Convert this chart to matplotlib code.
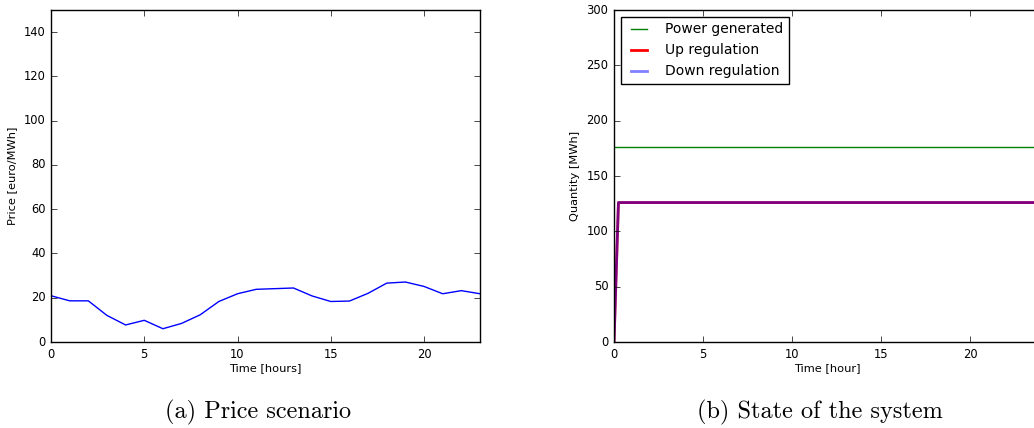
import matplotlib
matplotlib.use("Agg")
import matplotlib.pyplot as plt

# Price scenario (hourly)
hours = list(range(24))
price = [20.9, 18.6, 18.6, 12.0, 7.7, 9.8, 6.0, 8.4, 12.3, 18.3, 21.8, 23.8,
         24.1, 24.4, 20.8, 18.3, 18.5, 22.0, 26.6, 27.1, 25.1, 21.8, 23.2, 21.8]

# State of the system
t_sys = [0, 0.25, 24]
power_generated = [176, 176, 176]
up_regulation = [0, 126, 126]
down_regulation = [0, 126, 126]

plt.style.use('classic')
plt.rcParams['font.family'] = 'DejaVu Sans'
plt.rcParams['font.size'] = 8

fig = plt.figure(figsize=(10.34, 4.28), dpi=100, facecolor='white')

# (a) price
ax1 = fig.add_axes([51 / 1034, 1 - 342 / 428, (480 - 51) / 1034, 332 / 428])
ax1.plot(hours, price, color='blue', lw=1)
ax1.set_xlim(0, 23)
ax1.set_ylim(0, 150)
ax1.set_yticks(range(0, 141, 20))
ax1.set_xticks(range(0, 21, 5))
ax1.set_xlabel('Time [hours]', fontsize=8.2, labelpad=2)
ax1.set_ylabel('Price [euro/MWh]', fontsize=8.2)

# (b) system state
ax2 = fig.add_axes([614 / 1034, 1 - 342 / 428, 24 * 17.8 / 1034, 332 / 428])
ax2.plot(t_sys, power_generated, color='green', lw=1, label='Power generated')
ax2.plot(t_sys, up_regulation, color='red', lw=2, label='Up regulation')
ax2.plot(t_sys, down_regulation, color='blue', lw=2, alpha=0.5, label='Down regulation')
ax2.set_xlim(0, 24)
ax2.set_ylim(0, 300)
ax2.set_xticks(range(0, 21, 5))
ax2.set_xlabel('Time [hour]', fontsize=8.2, labelpad=2)
ax2.set_ylabel('Quantity [MWh]', fontsize=8.2)
ax2.legend(loc='upper left', fontsize=10, frameon=True, fancybox=False,
           handlelength=1.8, handletextpad=1.0, borderaxespad=0.5)

for ax in (ax1, ax2):
    ax.tick_params(labelsize=8.3, direction='in', length=4)

fig.text(258 / 1034, 1 - 412 / 428, '(a) Price scenario', family='cmr10',
         fontsize=17.5, ha='center', va='center')
fig.text(820 / 1034, 1 - 412 / 428, '(b) State of the system', family='cmr10',
         fontsize=17.5, ha='center', va='center')

fig.savefig('out.png', dpi=100, facecolor='white')
